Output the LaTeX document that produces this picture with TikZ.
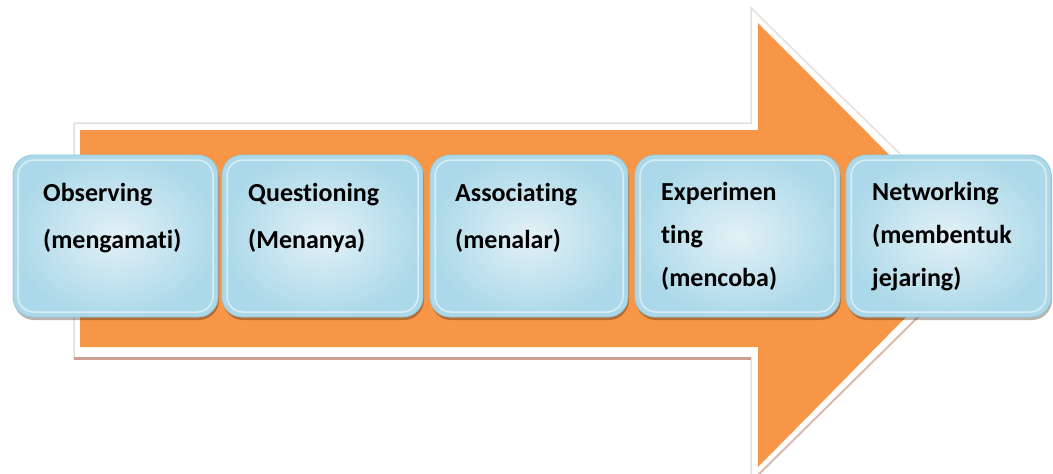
\documentclass[tikz,border=0pt]{standalone}
\usepackage{fontspec}
\setmainfont{Carlito}[Ligatures=NoCommon]
\usetikzlibrary{calc}
\definecolor{arroworange}{HTML}{F79646}
\definecolor{outlinegray}{HTML}{E6E0DC}
\definecolor{outlinebrown}{HTML}{C9A18E}
\definecolor{boxin}{HTML}{E3F1F6}
\definecolor{boxout}{HTML}{ACD9E9}
\definecolor{boxedge}{HTML}{95C9DB}
\tikzset{
  stagebox/.style={rounded corners=20pt, inner color=boxin, outer color=boxout},
  boxshadow/.style={rounded corners=20pt, fill=black!70!brown, opacity=0.35},
  boxrim/.style={rounded corners=16pt, draw=white, opacity=0.55, line width=1.5pt},
  lbl/.style={anchor=base west, inner sep=0pt, font=\bfseries\fontsize{26}{30}\selectfont, text=black}
}
\begin{document}
\begin{tikzpicture}[x=1pt,y=-1pt]
\useasboundingbox (0,0) rectangle (1053,474);
\clip (0,0) rectangle (1053,474);
% outer pale outline of the arrow
\draw[draw=outlinegray, line width=1.5pt, fill=white]
  (74,123) -- (751,123) -- (751,8) -- (992,244) -- (751,482) -- (751,358) -- (74,358) -- cycle;
\draw[outlinebrown, line width=3pt] (74,358) -- (751,358);
\draw[outlinebrown!70, line width=2pt] (992,244) -- (751,482);
% orange arrow
\fill[arroworange]
  (80,130) -- (758,130) -- (758,23) -- (978,244) -- (758,467) -- (758,347) -- (80,347) -- cycle;
% boxes
\foreach \i/\xl/\xr in {1/13/218, 2/222/423, 3/430/628, 4/635/840, 5/846/1051}{
  \fill[boxshadow] (\xl+1,158) rectangle (\xr+1,320);
  \shade[stagebox] (\xl,155) rectangle (\xr,317);
  \draw[boxrim] (\xl+5,160) rectangle (\xr-5,312);
  \draw[rounded corners=20pt, boxedge, line width=0.8pt] (\xl,155) rectangle (\xr,317);
  \coordinate (b\i) at (\xl,155);
}
% labels
\node[lbl] (t1a) at ($(b1)+(30,46)$) {Observing};
\node[lbl] (t1b) at ($(b1)+(30,93)$) {(mengamati)};
\node[lbl] (t2a) at ($(b2)+(26,46)$) {Questioning};
\node[lbl] (t2b) at ($(b2)+(26,93)$) {(Menanya)};
\node[lbl] (t3a) at ($(b3)+(25,46)$) {Associating};
\node[lbl] (t3b) at ($(b3)+(25,93)$) {(menalar)};
\node[lbl] (t4a) at ($(b4)+(26,45)$) {Experimen};
\node[lbl] (t4b) at ($(b4)+(26,88)$) {ting};
\node[lbl] (t4c) at ($(b4)+(26,131)$) {(mencoba)};
\node[lbl] (t5a) at ($(b5)+(26,45)$) {Networking};
\node[lbl] (t5b) at ($(b5)+(26,88)$) {(membentuk};
\node[lbl] (t5c) at ($(b5)+(26,131)$) {jejaring)};
\end{tikzpicture}
\end{document}
